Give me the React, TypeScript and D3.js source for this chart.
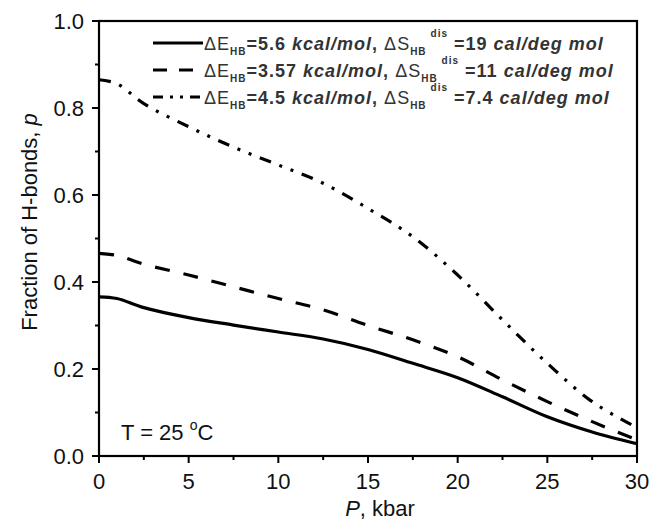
import React from 'react';
import * as d3 from 'd3';

const pressure = [0, 1, 2.5, 5, 7.5, 10, 12.5, 15, 17.5, 20, 22.5, 25, 27.5, 30];
const fracSolid = [0.366, 0.362, 0.341, 0.318, 0.301, 0.285, 0.269, 0.245, 0.213, 0.18, 0.136, 0.09, 0.055, 0.028];
const fracDash = [0.466, 0.461, 0.441, 0.416, 0.389, 0.362, 0.336, 0.3, 0.267, 0.228, 0.175, 0.125, 0.079, 0.037];
const fracDashDot = [0.865, 0.856, 0.81, 0.757, 0.71, 0.669, 0.627, 0.569, 0.504, 0.416, 0.313, 0.213, 0.125, 0.065];

const xTicks = [0, 5, 10, 15, 20, 25, 30];
const xMinor = [2.5, 7.5, 12.5, 17.5, 22.5, 27.5];
const yTicks = [0, 0.2, 0.4, 0.6, 0.8, 1.0];
const yMinor = [0.1, 0.3, 0.5, 0.7, 0.9];

const legendE = ['5.6', '3.57', '4.5'];
const legendS = ['19', '11', '7.4'];
const dashes = ['none', '15 14', '12 9 3 9 3 9'];

const W = 652;
const H = 523;
const left = 99;
const right = 637;
const top = 21;
const bottom = 456;

export default function App() {
  const x = d3.scaleLinear().domain([0, 30]).range([left, right]);
  const y = d3.scaleLinear().domain([0, 1]).range([bottom, top]);
  const line = d3
    .line<number>()
    .x((d, i) => x(pressure[i]))
    .y((d) => y(d))
    .curve(d3.curveCatmullRom.alpha(0.5));
  const series = [fracSolid, fracDash, fracDashDot];
  const font = 'Liberation Sans, Arial, sans-serif';

  return (
    <svg width={W} height={H} style={{ position: 'absolute', left: 0, top: 0, background: '#fff' }} fontFamily={font}>
      <rect x={0} y={0} width={W} height={H} fill="#fff" />
      {series.map((s, i) => (
        <path key={i} d={line(s) || ''} fill="none" stroke="#000" strokeWidth={3.2}
          strokeDasharray={dashes[i]} />
      ))}
      {/* frame */}
      <rect x={left} y={top} width={right - left} height={bottom - top} fill="none" stroke="#000" strokeWidth={2.2} />
      {xTicks.map((t) => (
        <g key={t}>
          <line x1={x(t)} x2={x(t)} y1={bottom} y2={bottom + 7} stroke="#000" strokeWidth={2} />
          <text x={x(t)} y={489} textAnchor="middle" fontSize={22} fill="#111">{t}</text>
        </g>
      ))}
      {xMinor.map((t) => (
        <line key={t} x1={x(t)} x2={x(t)} y1={bottom} y2={bottom + 4} stroke="#000" strokeWidth={2} />
      ))}
      {yTicks.map((t) => (
        <g key={t}>
          <line x1={left - 7} x2={left} y1={y(t)} y2={y(t)} stroke="#000" strokeWidth={2} />
          <text x={84} y={y(t) + 8} textAnchor="end" fontSize={22} fill="#111">{t.toFixed(1)}</text>
        </g>
      ))}
      {yMinor.map((t) => (
        <line key={t} x1={left - 4} x2={left} y1={y(t)} y2={y(t)} stroke="#000" strokeWidth={2} />
      ))}
      <text x={380} y={516} textAnchor="middle" fontSize={22} fill="#111">
        <tspan fontStyle="italic">P</tspan>, kbar
      </text>
      <text transform="translate(37,222) rotate(-90)" textAnchor="middle" fontSize={22} fill="#111">
        Fraction of H-bonds, <tspan fontStyle="italic">p</tspan>
      </text>
      <text x={121} y={440} fontSize={22} fill="#111">
        T = 25 <tspan dy={-10} fontSize={14}>o</tspan><tspan dy={10}>C</tspan>
      </text>
      {legendE.map((e, i) => {
        const ly = 43 + i * 27;
        return (
          <g key={i}>
            <line x1={153} x2={203} y1={ly} y2={ly} stroke="#000" strokeWidth={3.2}
              strokeDasharray={i === 1 ? '14 12' : i === 2 ? '10 7 3 7 3 7' : 'none'} />
            <text x={204} y={ly + 7} fontSize={18} fill="#333" fontWeight="bold" letterSpacing={1}>
              <tspan fontWeight="normal">ΔE</tspan>
              <tspan dy={5} fontSize={10}>HB</tspan>
              <tspan dy={-5}>={e} </tspan>
              <tspan fontStyle="italic">kcal/mol</tspan>
              <tspan>, </tspan>
              <tspan fontWeight="normal">ΔS</tspan>
              <tspan dy={5} fontSize={10}>HB</tspan>
              <tspan dy={-18} dx={4} fontSize={10}>dis</tspan>
              <tspan dy={13}> ={legendS[i]} </tspan>
              <tspan fontStyle="italic">cal/deg mol</tspan>
            </text>
          </g>
        );
      })}
    </svg>
  );
}
